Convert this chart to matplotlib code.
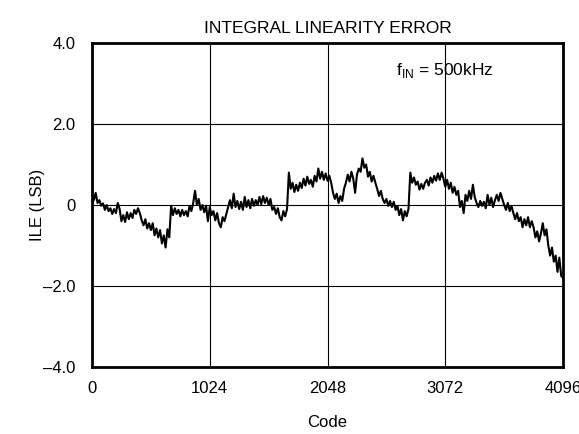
import numpy as np
import matplotlib
matplotlib.use('Agg')
import matplotlib.pyplot as plt

plt.rcParams['font.family'] = ['Liberation Sans', 'DejaVu Sans']
plt.rcParams['mathtext.fontset'] = 'custom'
plt.rcParams['mathtext.rm'] = 'Liberation Sans'

# output code, one sample every 16 codes
code = np.arange(0, 4097, 16)

# ILE in LSB (band top/bottom alternating)
ile = [
    0.22, 0.12, 0.30, 0.05, 0.12, -0.02, 0.04, -0.12, 0.00, -0.15, -0.08, -0.22, -0.10, -0.20, 0.05, -0.10,
    -0.40, -0.25, -0.42, -0.18, -0.35, -0.20, -0.32, -0.12, -0.22, -0.08, -0.20, -0.38, -0.50, -0.35, -0.58, -0.45,
    -0.62, -0.45, -0.75, -0.58, -0.80, -0.62, -0.95, -0.75, -1.05, -0.60, -0.80, -0.02, -0.25, -0.08, -0.22, -0.12,
    -0.28, -0.12, -0.25, -0.15, -0.28, -0.02, -0.15, 0.05, 0.35, 0.00, 0.15, -0.12, 0.00, -0.18, -0.02, -0.40,
    -0.05, -0.25, -0.15, -0.38, -0.20, -0.45, -0.55, -0.30, -0.40, -0.22, -0.05, 0.12, -0.08, 0.28, -0.05, 0.10,
    -0.10, 0.08, -0.12, 0.20, -0.05, 0.12, -0.08, 0.15, -0.02, 0.12, 0.00, 0.20, 0.02, 0.22, 0.05, 0.18,
    0.00, 0.15, -0.12, -0.05, -0.22, -0.08, -0.30, -0.38, -0.15, -0.28, -0.10, 0.80, 0.40, 0.55, 0.32, 0.50,
    0.35, 0.55, 0.42, 0.65, 0.48, 0.70, 0.52, 0.62, 0.45, 0.72, 0.58, 0.90, 0.65, 0.82, 0.62, 0.78,
    0.60, 0.72, 0.55, 0.30, 0.15, 0.28, 0.05, 0.22, 0.10, 0.40, 0.55, 0.75, 0.58, 0.82, 0.65, 0.30,
    0.75, 0.90, 0.82, 1.15, 0.92, 1.00, 0.70, 0.82, 0.58, 0.72, 0.55, 0.40, 0.22, 0.35, 0.15, 0.05,
    0.15, -0.02, 0.10, -0.05, 0.08, -0.12, -0.02, -0.25, -0.10, -0.38, -0.15, -0.28, -0.10, 0.80, 0.55, 0.68,
    0.50, 0.58, 0.38, 0.52, 0.40, 0.55, 0.62, 0.48, 0.68, 0.55, 0.72, 0.60, 0.78, 0.62, 0.80, 0.65,
    0.45, 0.62, 0.40, 0.55, 0.30, 0.45, 0.25, 0.35, -0.05, 0.10, -0.20, 0.25, 0.10, 0.35, 0.15, 0.50,
    0.20, 0.05, -0.05, 0.10, -0.02, 0.08, -0.08, 0.25, 0.00, 0.18, -0.05, 0.12, 0.25, 0.10, 0.30, 0.15,
    0.00, -0.12, 0.05, -0.15, -0.02, -0.20, -0.35, -0.20, -0.40, -0.30, -0.55, -0.35, -0.50, -0.30, -0.55, -0.40,
    -0.55, -0.80, -0.65, -0.90, -0.70, -0.45, -0.75, -0.60, -1.00, -1.25, -1.05, -1.40, -1.25, -1.65, -1.30, -1.75,
    -1.80,
]

xticks = [0, 1024, 2048, 3072, 4096]
yticks = [-4, -2, 0, 2, 4]
ylabels = ['\u20134.0', '\u20132.0', '0', '2.0', '4.0']

fig = plt.figure(figsize=(5.79, 4.34), dpi=100)
ax = fig.add_axes([0.1589, 0.1544, 0.8135, 0.7465])

ax.plot(code, ile, color='black', lw=1.5)

ax.set_xlim(0, 4096)
ax.set_ylim(-4, 4)
ax.set_xticks(xticks)
ax.set_yticks(yticks)
ax.set_yticklabels(ylabels)
ax.tick_params(length=0, labelsize=12)
ax.tick_params(axis='y', pad=12)
ax.tick_params(axis='x', pad=10)
ax.grid(True, color='black', lw=0.8)
for s in ax.spines.values():
    s.set_linewidth(2.0)

ax.set_xlabel('Code', fontsize=12, labelpad=14)
ax.set_ylabel('ILE (LSB)', fontsize=12)
ax.yaxis.set_label_coords(-0.10, 0.5)
ax.set_title('INTEGRAL LINEARITY ERROR', fontsize=12.5, pad=7)

ax.text(2640, 3.2, r'$\mathrm{f}_{\mathrm{IN}}$ = 500kHz', fontsize=12.5, va='baseline')

plt.savefig('out.png', dpi=100)
